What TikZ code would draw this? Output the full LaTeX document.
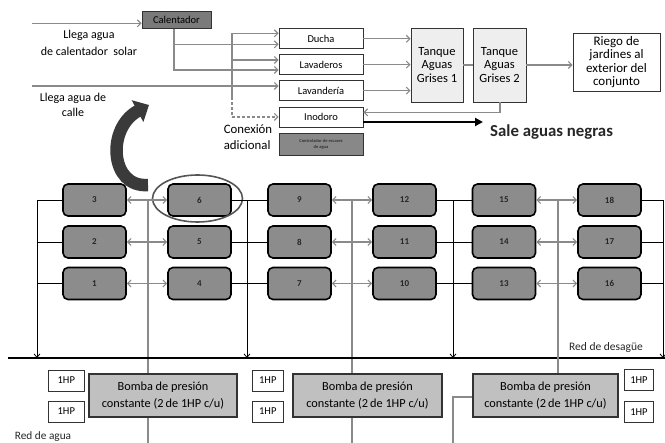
\documentclass[tikz,border=0pt]{standalone}
\usepackage{fontspec}
\setmainfont{Carlito}
\usetikzlibrary{arrows.meta}
\definecolor{lgray}{HTML}{8A8A8A}
\definecolor{bdark}{HTML}{333333}
\definecolor{tfill}{HTML}{EEEEEE}
\definecolor{gfill}{HTML}{8C8C8C}
\definecolor{bfill}{HTML}{C0C0C0}
\definecolor{cfill}{HTML}{7A7A7A}
\definecolor{kfill}{HTML}{888888}
\definecolor{curvecol}{HTML}{3A3A3A}
\definecolor{ellcol}{HTML}{555555}
\begin{document}
\begin{tikzpicture}[x=1pt,y=-1pt,
  gl/.style={draw=lgray,line width=1.1pt},
  gar/.style={gl,-{Straight Barb[length=3.5pt,width=7pt]}},
  gdar/.style={gl,{Straight Barb[length=3.5pt,width=7pt]}-{Straight Barb[length=3.5pt,width=7pt]}},
  bl/.style={draw=black,line width=0.8pt},
  bar/.style={bl,-{Straight Barb[length=3.5pt,width=6pt]}},
  wbox/.style={draw=bdark,fill=white,line width=0.9pt,inner sep=0pt,minimum width=84pt,minimum height=20pt,font=\fontsize{10.5}{12}\selectfont},
  tbox/.style={draw=bdark,fill=tfill,line width=0.9pt,inner sep=0pt,minimum height=74pt,align=center,font=\fontsize{12.5}{13.5}\selectfont},
  gbox/.style={draw=black,fill=gfill,line width=1.6pt,rounded corners=5pt,minimum width=63pt,minimum height=32pt,inner sep=0pt,font=\bfseries\fontsize{9}{10}\selectfont,text=black!85},
  hpbox/.style={draw=bdark,fill=white,line width=0.8pt,minimum height=21pt,inner sep=0pt,font=\fontsize{10.5}{12}\selectfont},
  bbox/.style={draw=bdark,fill=bfill,line width=1.5pt,minimum height=43pt,inner sep=0pt,align=center,font=\fontsize{12.3}{17}\selectfont},
  lbl/.style={inner sep=0pt,align=center}
]
\useasboundingbox (0,0) rectangle (665,443);

% ---------- top section ----------
\node[draw=bdark,fill=cfill,line width=0.9pt,minimum width=69pt,minimum height=16.5pt,inner sep=0pt,font=\fontsize{10.5}{12}\selectfont,text=black] (calent) at (176.5,20) {Calentador};
\node[wbox] (ducha) at (321,38.8) {Ducha};
\node[wbox] (lavad) at (321,64.6) {Lavaderos};
\node[wbox] (lavand) at (321,90.6) {Lavandería};
\node[wbox] (inod) at (321,117) {Inodoro};
\node[draw=bdark,fill=kfill,line width=0.9pt,minimum width=84pt,minimum height=22pt,inner sep=0pt,align=center,font=\bfseries\fontsize{4.5}{6}\selectfont,text=black!80] (ctrl) at (321,144) {Controlador de escasez\\de agua};
\node[tbox,minimum width=52pt] (tank1) at (437,65) {Tanque\\Aguas\\Grises 1};
\node[tbox,minimum width=53pt] (tank2) at (499.5,65) {Tanque\\Aguas\\Grises 2};
\node[draw=bdark,fill=white,line width=0.9pt,minimum width=87pt,minimum height=58pt,inner sep=0pt,align=center,font=\fontsize{13}{13.3}\selectfont] (riego) at (616.5,62) {Riego de\\jardines al\\exterior del\\conjunto};

\node[lbl,font=\fontsize{12}{17}\selectfont] (tsolar) at (89,42.5) {Llega agua\\de calentador\ \ solar};
\node[lbl,font=\fontsize{12}{15}\selectfont] (tcalle) at (73,104.5) {Llega agua de\\calle};
\node[lbl,font=\fontsize{12.8}{16.5}\selectfont,align=left] (tconex) at (248,137) {Conexión\\adicional};
\node[lbl,anchor=west,font=\bfseries\fontsize{16.8}{18}\selectfont,text=black!85] (sale) at (490,132) {Sale aguas negras};

\coordinate (solarin) at (32,23.3);
\coordinate (hotA) at (174,44.3);
\coordinate (hotB) at (174,70);
\coordinate (vtop) at (232,33.3);
\coordinate (vmid) at (232,60);
\coordinate (vdash) at (232,97);
\coordinate (vbot) at (232,117);
\coordinate (callein) at (32,86);
\coordinate (t2b) at (500,112.3);
\coordinate (negras) at (483,122);

\draw[gar] (solarin) -- (solarin -| calent.west);
\draw[gl] (calent.south -| hotA) -- (hotA);
\draw[gar] (hotA) -- (hotB) -- (hotB -| lavad.west);
\draw[gar] (hotA) -- (hotA -| ducha.west);
\draw[gar] (vdash) -- (vtop) -- (vtop -| ducha.west);
\draw[gar] (vmid) -- (vmid -| lavad.west);
\draw[gl,dash pattern=on 3pt off 2pt] (vdash) -- (vbot);
\draw[gar,dash pattern=on 3pt off 2pt] (vbot) -- (vbot -| inod.west);
\draw[gar] (callein) -- (callein -| lavand.west);

\draw[gar] (ducha.east) -- (ducha.east -| tank1.west);
\draw[gar] (lavad.east) -- (lavad.east -| tank1.west);
\draw[gar] (lavand.east) -- (lavand.east -| tank1.west);
\draw[gl] (tank1.east) -- (tank2.west);
\draw[gar] (tank2.east) -- (tank2.east -| riego.west);
\draw[gar] (tank2.south -| t2b) -- (t2b) -- (t2b -| inod.east);
\draw[line width=2.2pt,-{Triangle[length=8pt,width=8pt]}] (inod.east |- negras) -- (negras);

% curved arrow
\coordinate (ctail) at (148,185);
\coordinate (chead) at (149,105);
\draw[curvecol,line width=12.5pt,-{Triangle[length=13pt,width=24pt]}] (ctail) .. controls (110,188) and (106,128) .. (chead);

% ---------- grid ----------
\coordinate (v1) at (37,0);
\coordinate (g1) at (148,0);
\coordinate (v2) at (247,0);
\coordinate (g2) at (352,0);
\coordinate (v3) at (453,0);
\coordinate (g3) at (558,0);
\coordinate (v4) at (663,0);
\coordinate (des) at (0,358);
\coordinate (desL) at (8,358);
\coordinate (desR) at (665,358);
\coordinate (bot) at (0,443);

\foreach \c/\x in {1/94.5,2/199.5,3/299.5,4/404.5,5/504,6/609.5}{
  \foreach \r/\y in {1/283.5,2/242,3/200}{
    \pgfmathtruncatemacro\n{3*(\c-1)+\r}
    \node[gbox] (b\n) at (\x,\y) {\n};
  }
}

\draw[ellcol,line width=1.6pt] (197.5,198.5) ellipse (45 and 23.5);

% col1 left
\foreach \n in {1,2,3} \draw[bl] (b\n.west) -- (b\n.west -| v1);
\draw[bar] (b3.west -| v1) -- (des -| v1);
% col1-col2
\foreach \n in {1,2,3} {\pgfmathtruncatemacro\m{\n+3}\draw[gdar] (b\n.east) -- (b\m.west);}
\draw[gl] (b6.west -| g1) -- (bot -| g1);
% col2-col3
\foreach \n in {4,5,6} {\pgfmathtruncatemacro\m{\n+3}\draw[bl] (b\n.east) -- (b\m.west);}
\draw[bar] (b6.east -| v2) -- (des -| v2);
% col3-col4
\foreach \n in {7,8,9} {\pgfmathtruncatemacro\m{\n+3}\draw[gdar] (b\n.east) -- (b\m.west);}
\draw[gl] (b9.east -| g2) -- (bot -| g2);
% col4-col5
\foreach \n in {10,11,12} {\pgfmathtruncatemacro\m{\n+3}\draw[bl] (b\n.east) -- (b\m.west);}
\draw[bar] (b12.east -| v3) -- (des -| v3);
% col5-col6
\foreach \n in {13,14,15} {\pgfmathtruncatemacro\m{\n+3}\draw[gdar] (b\n.east) -- (b\m.west);}
% col6 right
\foreach \n in {16,17,18} \draw[bl] (b\n.east) -- (b\n.east -| v4);
\draw[bar] (b18.east -| v4) -- (des -| v4);

\draw[line width=1.8pt] (desL) -- (desR);
\node[lbl,font=\fontsize{11.5}{12}\selectfont,text=black!85] (tdes) at (606,347) {Red de desagüe};

% ---------- bottom ----------
\node[hpbox,minimum width=36pt] (hp1a) at (66.3,380.5) {1HP};
\node[hpbox,minimum width=36pt] (hp1b) at (66.3,411.5) {1HP};
\node[hpbox,minimum width=31pt] (hp2a) at (267.8,380.5) {1HP};
\node[hpbox,minimum width=31pt] (hp2b) at (267.8,411.5) {1HP};
\node[hpbox,minimum width=29pt] (hp3a) at (639,380) {1HP};
\node[hpbox,minimum width=29pt] (hp3b) at (639,412) {1HP};

\node[bbox,minimum width=148pt] (bomb1) at (163,395.5) {Bomba de presión\\constante (2\,de 1HP c/u)};
\node[bbox,minimum width=149pt] (bomb2) at (367.5,395.5) {Bomba de presión\\constante (2\,de 1HP c/u)};
\node[bbox,minimum width=145pt] (bomb3) at (545.5,395.5) {Bomba de presión\\constante (2\,de 1HP c/u)};

\draw[gl] (b15.east -| g3) -- (bomb3.north -| g3);
\coordinate (w3) at (453,397);
\draw[gl] (bomb3.west |- w3) -- (w3) -- (w3 |- bot);

\node[lbl,font=\fontsize{11.3}{12}\selectfont,text=black!85] (tagua) at (43,437) {Red de agua};
\end{tikzpicture}
\end{document}
